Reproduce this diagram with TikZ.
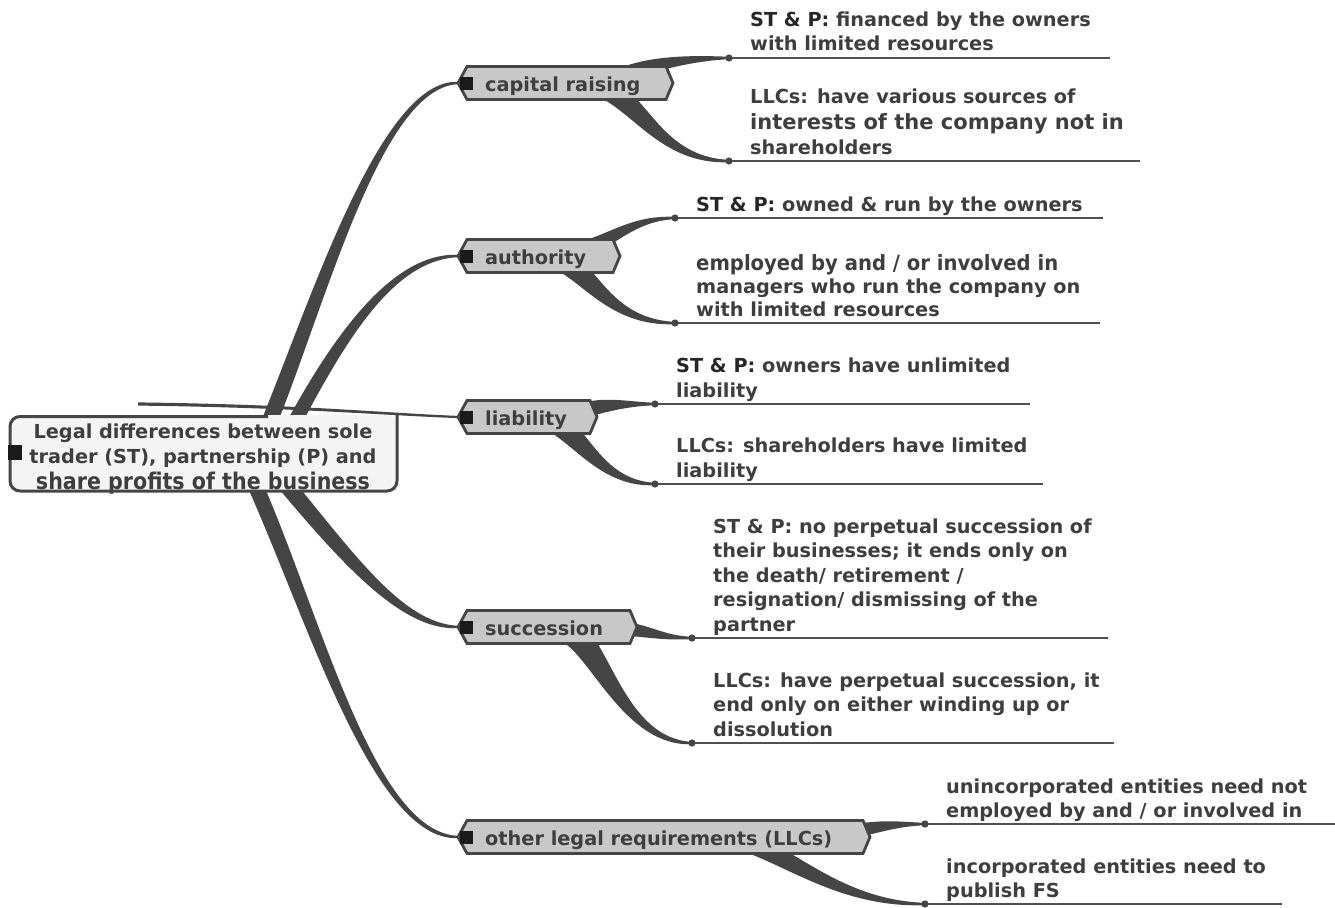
\documentclass[tikz,border=0pt]{standalone}
\usepackage{fontspec}
\setmainfont{DejaVu Sans}
\usetikzlibrary{calc}
\definecolor{conncol}{HTML}{454545}
\definecolor{txtcol}{HTML}{3E3E3E}
\definecolor{nodefill}{HTML}{C8C8C8}
\definecolor{rootfill}{HTML}{F4F4F4}
\definecolor{sqcol}{HTML}{1A1A1A}
\definecolor{stpcol}{HTML}{262626}
\definecolor{linecol}{HTML}{505050}
\newcommand{\lfont}{\fontsize{19.3pt}{24.5pt}\selectfont\bfseries}
\newcommand{\rfont}{\fontsize{19.3pt}{25pt}\selectfont\bfseries}
\newcommand{\stp}{{\color{stpcol}ST \& P:}}
% tapered connector: start, c1, c2, end, offset at start/c1, offset at c2, offset at end
\newcommand{\taper}[7]{\fill[connfill] ($#1+#5$) .. controls ($#2+#5$) and ($#3+#6$) .. ($#4+#7$) -- ($#4-#7$) .. controls ($#3-#6$) and ($#2-#5$) .. ($#1-#5$) -- cycle;}
% branch shape: centre y, right tip x
\newcommand{\bshape}[2]{\filldraw[branchshape] (458,#1) -- (467,#1-16.5) -- (#2-7,#1-16.5) -- (#2,#1) -- (#2-7,#1+16.5) -- (467,#1+16.5) -- cycle;
\fill[sqcol] (460,#1-6.5) rectangle (473,#1+6.5);}
\tikzset{
  connfill/.style={fill=conncol},
  branchshape/.style={fill=nodefill, draw=conncol, line width=2.8pt, line join=miter},
  btext/.style={anchor=base west, inner sep=0pt, font=\lfont, text=txtcol},
  leaf/.style={anchor=base west, inner sep=0pt, font=\lfont, text=txtcol},
  uline/.style={draw=linecol, line width=1.6pt},
  dotc/.style={fill=conncol},
}
\begin{document}
\begin{tikzpicture}[x=1pt,y=-1pt]
\useasboundingbox (0,0) rectangle (1335,907);
% anchor coordinates
\coordinate (capL) at (458,83);
\coordinate (autL) at (458,256);
\coordinate (libL) at (458,417);
\coordinate (sucL) at (458,627);
\coordinate (othL) at (458,837);
\coordinate (d1) at (729,58);
\coordinate (d2) at (729,161);
\coordinate (d3) at (675,218);
\coordinate (d4) at (675,323);
\coordinate (d5) at (655,404);
\coordinate (d6) at (655,484);
\coordinate (d7) at (692,638);
\coordinate (d8) at (692,743);
\coordinate (d9) at (925,824);
\coordinate (d10) at (925,904);
\coordinate (rtop1) at (264,435);
\coordinate (rtop2) at (285,440);
\coordinate (rbot1) at (270,465);
\coordinate (rbot2) at (246,465);
\coordinate (rlib) at (138,404);

% root connectors
\taper{(rtop1)}{(318,305)}{(380,83)}{(capL)}{(7.4,3)}{(0,4.5)}{(0,1.2)}
\taper{(rtop2)}{(335,345)}{(390,256)}{(autL)}{(6.5,3)}{(0,4)}{(0,1.2)}
\taper{(rbot1)}{(345,555)}{(400,627)}{(sucL)}{(-6,6)}{(0,4)}{(0,1.2)}
\taper{(rbot2)}{(310,600)}{(370,837)}{(othL)}{(-7,3.5)}{(0,4.5)}{(0,1.2)}

% branch to leaf connectors
\taper{(620,76)}{(650,64)}{(690,58)}{(d1)}{(0,8)}{(0,3)}{(0,1.2)}
\taper{(600,86)}{(640,100)}{(660,161)}{(d2)}{(-8,8)}{(0,4)}{(0,1.2)}
\taper{(575,252)}{(610,244)}{(630,218)}{(d3)}{(0,9)}{(0,3)}{(0,1.2)}
\taper{(560,260)}{(590,272)}{(610,323)}{(d4)}{(-8,8)}{(0,4)}{(0,1.2)}
\taper{(578,412)}{(605,404)}{(625,404)}{(d5)}{(0,8)}{(0,2.5)}{(0,1.2)}
\taper{(550,420)}{(580,432)}{(600,484)}{(d6)}{(-8,8)}{(0,4)}{(0,1.2)}
\taper{(615,628)}{(650,630)}{(660,638)}{(d7)}{(0,7)}{(0,2.5)}{(0,1.2)}
\taper{(570,632)}{(600,647)}{(625,743)}{(d8)}{(-9,9)}{(0,4)}{(0,1.2)}
\taper{(845,833)}{(880,826)}{(895,824)}{(d9)}{(0,7)}{(0,2.5)}{(0,1.2)}
\taper{(740,840)}{(790,855)}{(840,904)}{(d10)}{(-4,9)}{(0,4)}{(0,1.2)}

% underlines and dots
\draw[uline] (d1) -- (1110,58);
\draw[uline] (d2) -- (1140,161);
\draw[uline] (d3) -- (1103,218);
\draw[uline] (d4) -- (1100,323);
\draw[uline] (d5) -- (1030,404);
\draw[uline] (d6) -- (1043,484);
\draw[uline] (d7) -- (1108,638);
\draw[uline] (d8) -- (1114,743);
\draw[uline] (d9) -- (1335,824);
\draw[uline] (d10) -- (1282,904);
\foreach \d in {d1,d2,d3,d4,d5,d6,d7,d8,d9,d10} \fill[dotc] (\d) circle (3.6pt);

% branch nodes
\bshape{83}{673}
\bshape{256}{620}
\bshape{417}{597}
\bshape{627}{637}
\bshape{837}{870}
\node[btext] (cap) at (485,91.5) {capital raising};
\node[btext] (aut) at (485,264.5) {authority};
\node[btext] (lib) at (485,425.5) {liability};
\node[btext] (suc) at (485,635.5) {succession};
\node[btext] (oth) at (485,845.5) {other legal requirements (LLCs)};

% leaves
\node[leaf] (t1) at (750,51) {\parbox[b]{420pt}{\raggedright \stp{} financed by the owners\\with limited resources}};
\node[leaf] (t2) at (750,154) {\parbox[b]{420pt}{\raggedright LLCs: have various sources of\\[1.5pt]{\fontsize{21pt}{24.5pt}\selectfont interests of the company not in}\\shareholders}};
\node[leaf] (t3) at (696,211) {\parbox[b]{420pt}{\raggedright \stp{} owned \& run by the owners}};
\node[leaf] (t4) at (696,316) {\parbox[b]{420pt}{\raggedright \resizebox{362pt}{\height}{\fontsize{21pt}{24pt}\selectfont employed by and / or involved in}\\[-1pt]managers who run the company on\\[-2pt]with limited resources}};
\node[leaf] (t5) at (676,397) {\parbox[b]{420pt}{\raggedright \stp{} owners have unlimited\\liability}};
\node[leaf] (t6) at (676,477) {\parbox[b]{420pt}{\raggedright LLCs: shareholders have limited\\liability}};
\node[leaf] (t7) at (713,631) {\parbox[b]{420pt}{\raggedright ST \& P: no perpetual succession of\\their businesses; it ends only on\\the death/ retirement /\\resignation/ dismissing of the\\partner}};
\node[leaf] (t8) at (713,736) {\parbox[b]{420pt}{\raggedright LLCs: have perpetual succession, it\\end only on either winding up or\\dissolution}};
\node[leaf] (t9) at (946,817) {\parbox[b]{420pt}{\raggedright unincorporated entities need not\\[-1pt]employed by and / or involved in}};
\node[leaf] (t10) at (946,897) {\parbox[b]{420pt}{\raggedright incorporated entities need to\\[-1pt]publish FS}};

% root box
\fill[rootfill, rounded corners=10pt] (10,415) rectangle (397,491);
\node[anchor=base, inner sep=0pt, font=\rfont, text=txtcol] (root) at (203,489) {\parbox[b]{390pt}{\centering Legal differences between sole\\[-0.5pt]trader (ST), partnership (P) and\\[1pt]\resizebox{334pt}{\height}{\fontsize{23pt}{23pt}\selectfont share profits of the business}}};
\draw[draw=conncol, line width=3pt, rounded corners=10pt] (268,416.5) -- (10,416.5) -- (10,491) -- (397,491) -- (397,413);
\fill[sqcol] (8,445) rectangle (22,460);
% liability connector running along top of root
\taper{(rlib)}{(300,406)}{(380,414)}{(libL)}{(0,1.6)}{(0,1.3)}{(0,1.1)}
\end{tikzpicture}
\end{document}
